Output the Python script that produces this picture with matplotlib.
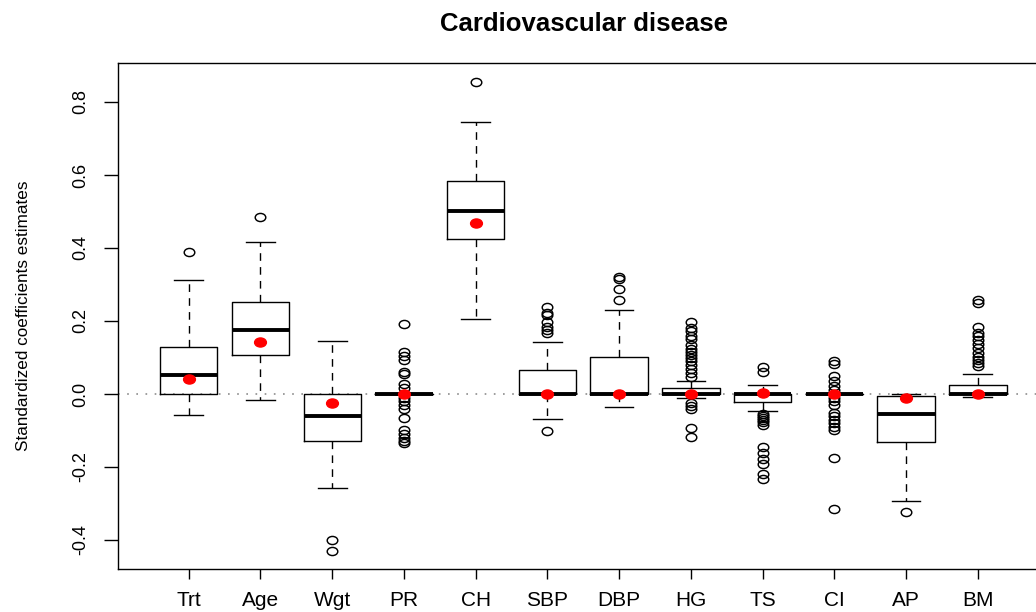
import matplotlib
matplotlib.use('Agg')
import matplotlib.pyplot as plt
import matplotlib.transforms as mtransforms
from matplotlib.path import Path

# standardized coefficient estimates, summarised per covariate
labels = ['Trt', 'Age', 'Wgt', 'PR', 'CH', 'SBP', 'DBP', 'HG', 'TS', 'CI', 'AP', 'BM']
q1 = [0.0, 0.108, -0.129, 0.0, 0.424, 0.0, 0.0, 0.0, -0.021, 0.0, -0.132, 0.0]
med = [0.051, 0.174, -0.060, 0.0, 0.502, 0.0, 0.0, 0.0, 0.0, 0.0, -0.055, 0.0]
q3 = [0.128, 0.253, 0.0, 0.0, 0.584, 0.065, 0.100, 0.016, 0.0, 0.0, -0.006, 0.024]
whislo = [-0.058, -0.017, -0.257, 0.0, 0.206, -0.068, -0.037, -0.012, -0.047, 0.0, -0.292, -0.009]
whishi = [0.311, 0.416, 0.144, 0.0, 0.745, 0.143, 0.229, 0.036, 0.025, 0.0, 0.0, 0.055]
means = [0.041, 0.142, -0.025, 0.0, 0.469, 0.0, 0.0, 0.0, 0.002, 0.0, -0.012, 0.0]

out_trt = [0.388]
out_age = [0.486]
out_wgt = [-0.400, -0.429]
out_pr = [0.192, 0.114, 0.104, 0.094, 0.060, 0.056, 0.026, 0.017, -0.010, -0.020,
          -0.030, -0.042, -0.067, -0.100, -0.110, -0.120, -0.128, -0.135]
out_ch = [0.855]
out_sbp = [0.239, 0.222, 0.216, 0.198, 0.184, 0.174, 0.166, -0.101]
out_dbp = [0.320, 0.315, 0.288, 0.258]
out_hg = [0.197, 0.180, 0.172, 0.160, 0.150, 0.134, 0.122, 0.115, 0.107, 0.098,
          0.089, 0.079, 0.068, 0.057, 0.046, -0.024, -0.032, -0.042, -0.092, -0.117]
out_ts = [0.075, 0.059, -0.055, -0.060, -0.066, -0.072, -0.078, -0.085,
          -0.144, -0.162, -0.177, -0.192, -0.219, -0.232]
out_ci = [0.090, 0.081, 0.050, 0.035, 0.022, 0.012, -0.012, -0.020, -0.030,
          -0.052, -0.060, -0.070, -0.080, -0.090, -0.100, -0.176, -0.316]
out_ap = [-0.322]
out_bm = [0.258, 0.249, 0.183, 0.168, 0.158, 0.148, 0.137, 0.125, 0.113,
          0.102, 0.092, 0.084, 0.077]
outliers = [out_trt, out_age, out_wgt, out_pr, out_ch, out_sbp, out_dbp,
            out_hg, out_ts, out_ci, out_ap, out_bm]

yticks = [-0.4, -0.2, 0.0, 0.2, 0.4, 0.6, 0.8]

plt.rcParams['font.family'] = ['Liberation Sans', 'DejaVu Sans']

stats = []
for i in range(len(labels)):
    stats.append({'label': labels[i], 'q1': q1[i], 'med': med[i], 'q3': q3[i],
                  'whislo': whislo[i], 'whishi': whishi[i],
                  'mean': means[i], 'fliers': outliers[i]})

# slightly flattened circle for the point markers
oval = Path.unit_circle().transformed(mtransforms.Affine2D().scale(1.3, 1.0))

fig = plt.figure(figsize=(10.36, 6.12), dpi=100)
ax = fig.add_axes([118 / 1036, 43 / 612, 933 / 1036, 506 / 612])

ax.axhline(0, color='#8c8c8c', linewidth=1.2, linestyle=(0, (1, 4.5)), zorder=1)

ax.bxp(stats, positions=range(1, 13), widths=0.8, showmeans=True,
       boxprops=dict(color='black', linewidth=1.0),
       medianprops=dict(color='black', linewidth=2.8, solid_capstyle='butt'),
       whiskerprops=dict(color='black', linewidth=1.0, linestyle=(0, (5.5, 4.5))),
       capprops=dict(color='black', linewidth=1.0),
       flierprops=dict(marker=oval, markersize=7.6, markerfacecolor='none',
                       markeredgecolor='black', markeredgewidth=1.05, linestyle='none'),
       meanprops=dict(marker=oval, markersize=8.5, markerfacecolor='red',
                      markeredgecolor='red', linestyle='none'))

ax.set_xlim(0.014, 13.02)
ax.set_ylim(-0.4795, 0.9068)
ax.set_yticks(yticks)
ax.set_yticklabels(['%.1f' % v for v in yticks])

ax.tick_params(axis='x', length=7.2, width=1.0, pad=8.5, labelsize=15)
ax.tick_params(axis='y', length=9.9, width=1.0, pad=11, labelsize=13, labelrotation=90)
for lbl in ax.get_yticklabels():
    lbl.set_verticalalignment('center')
for sp in ax.spines.values():
    sp.set_linewidth(1.0)

ax.set_ylabel('Standardized coefficients estimates', fontsize=12.3)
ax.yaxis.set_label_coords(-0.093, 0.5)

ax.set_title('Cardiovascular disease', fontsize=18.5, fontweight='bold', pad=23)

fig.savefig('out.png', dpi=100)
